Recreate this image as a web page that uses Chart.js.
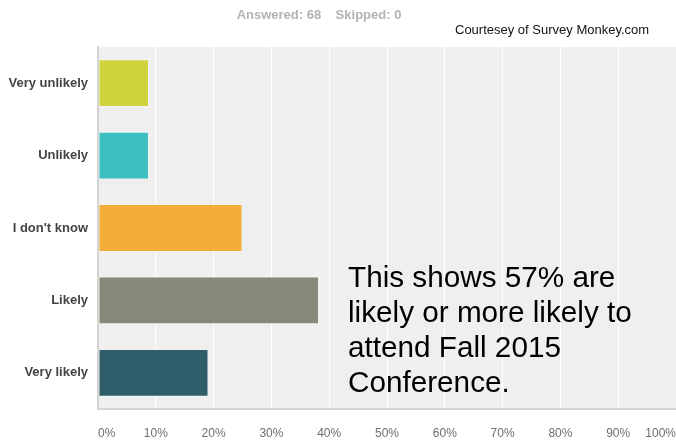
<!DOCTYPE html>
<html>
<head>
<meta charset="utf-8">
<script src="https://cdn.jsdelivr.net/npm/chart.js@4"></script>
<style>
  html, body { margin: 0; padding: 0; background: #fff; overflow: hidden; }
  #wrap { width: 676px; height: 440px; position: relative; }
</style>
</head>
<body>
<div id="wrap"><canvas id="surveyChart" width="676" height="440"></canvas></div>
<script>
// answers, 68 respondents
const categories = ['Very unlikely', 'Unlikely', "I don't know", 'Likely', 'Very likely'];
const percentages = [8.82, 8.82, 25.0, 38.24, 19.12];
const barColors = ['#d0d33d', '#3dbfc0', '#f4ad37', '#87887a', '#2f5e6a'];
const xTicks = [0, 10, 20, 30, 40, 50, 60, 70, 80, 90, 100];

const headerText = 'Answered: 68    Skipped: 0';
const creditText = 'Courtesey of Survey Monkey.com';
const noteLines = ['This shows 57% are', 'likely or more likely to', 'attend Fall 2015', 'Conference.'];

// grey plot background + header texts + the note over the bars
const extras = {
    id: 'extras',
    beforeDraw(chart) {
        const a = chart.chartArea;
        const c = chart.ctx;
        c.save();
        c.fillStyle = '#efefef';
        c.fillRect(a.left, a.top, a.right - a.left, a.bottom - a.top);
        c.restore();
    },
    afterDraw(chart) {
        const c = chart.ctx;
        c.save();
        c.textBaseline = 'alphabetic';

        c.fillStyle = '#b3b3b3';
        c.font = 'bold 13px "Liberation Sans", Arial, sans-serif';
        c.textAlign = 'center';
        c.fillText(headerText, 319, 19);

        c.fillStyle = '#111';
        c.font = '13px "Liberation Sans", Arial, sans-serif';
        c.textAlign = 'left';
        c.fillText(creditText, 455, 34);

        c.fillStyle = '#000';
        c.font = '29.7px "Liberation Sans", Arial, sans-serif';
        noteLines.forEach((line, i) => {
            c.fillText(line, 348, 287 + i * 35);
        });
        c.restore();
    }
};

const ctx = document.getElementById('surveyChart').getContext('2d');
let surveyChart = new Chart(ctx, {
    type: 'bar',
    data: {
        labels: categories,
        datasets: [{
            data: percentages,
            backgroundColor: barColors,
            borderColor: 'rgba(255, 255, 255, 0.35)',
            borderWidth: 1,
            borderSkipped: false,
            barPercentage: 0.66,
            categoryPercentage: 1
        }]
    },
    options: {
        indexAxis: 'y',
        responsive: false,
        animation: false,
        layout: {
            padding: { top: 47, right: 0, bottom: 0, left: 0 }
        },
        plugins: {
            legend: { display: false },
            tooltip: { enabled: false }
        },
        scales: {
            x: {
                min: 0,
                max: 100,
                afterBuildTicks: scale => {
                    scale.ticks = xTicks.map(v => ({ value: v }));
                },
                afterFit: scale => {
                    scale.height = 31;
                    scale.paddingLeft = 0;
                    scale.paddingRight = 0;
                },
                grid: {
                    color: '#ffffff',
                    lineWidth: 1,
                    drawTicks: false
                },
                border: { color: '#d6d6d6', width: 2 },
                ticks: {
                    callback: v => v + '%',
                    align: 'inner',
                    padding: 17,
                    color: '#6e6e6e',
                    font: { family: '"Liberation Sans", Arial, sans-serif', size: 12 }
                }
            },
            y: {
                afterFit: scale => {
                    scale.width = 98;
                    scale.paddingTop = 0;
                    scale.paddingBottom = 0;
                },
                grid: { display: false, drawTicks: false },
                border: { color: '#d3d3d3', width: 2 },
                ticks: {
                    padding: 10,
                    color: '#444',
                    font: { family: '"Liberation Sans", Arial, sans-serif', size: 13, weight: 'bold' }
                }
            }
        }
    },
    plugins: [extras]
});
</script>
</body>
</html>
